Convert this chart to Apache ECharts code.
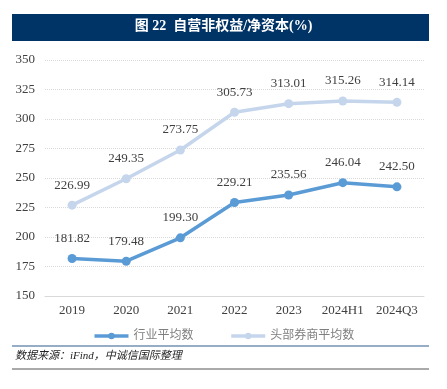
<!DOCTYPE html>
<html><head><meta charset="utf-8">
<script src="https://cdn.jsdelivr.net/npm/echarts@6/dist/echarts.min.js"></script>
<style>html,body{margin:0;padding:0;background:#fff}#c{width:447px;height:389px}</style>
</head><body><div id="c"></div>
<script>
const categories = ['2019','2020','2021','2022','2023','2024H1','2024Q3'];
const industryAvg = [181.82,179.48,199.30,229.21,235.56,246.04,242.50];
const topBrokerAvg = [226.99,249.35,273.75,305.73,313.01,315.26,314.14];
const seriesNames = ['行业平均数','头部券商平均数'];
const titleText = '图 22  自营非权益/净资本(%)';
const sourceText = '数据来源：iFind，中诚信国际整理';

const serif = '"Liberation Serif","Noto Sans CJK SC",serif';
const chart = echarts.init(document.getElementById('c'), null, {renderer:'canvas'});
chart.setOption({
  animation:false,
  graphic:[
    {type:'rect', shape:{x:12,y:14,width:417,height:27}, style:{fill:'#003366'}},
    {type:'text', left:'center', top:19, style:{text:titleText, fill:'#fff', font:'bold 14px '+serif}},
    {type:'line', shape:{x1:12,y1:346,x2:429,y2:346}, style:{stroke:'#2f5d8f', lineWidth:1.2}},
    {type:'text', left:15, top:351, style:{text:sourceText, fill:'#222', font:'italic 11px '+serif}},
    {type:'line', shape:{x1:12,y1:369,x2:429,y2:369}, style:{stroke:'#555', lineWidth:1}}
  ],
  grid:{left:45,right:23,top:60,bottom:93},
  legend:{
    top:325, left:'center', itemGap:36, itemWidth:34, itemHeight:8,
    lineStyle:{width:3.5},
    textStyle:{color:'#7f7f7f', fontSize:12, fontFamily:serif},
    data:seriesNames
  },
  xAxis:{
    type:'category', data:categories, boundaryGap:true,
    axisLine:{lineStyle:{color:'#d9d9d9'}}, axisTick:{show:false},
    axisLabel:{color:'#404040', fontSize:13, fontFamily:serif, margin:8, interval:0}
  },
  yAxis:{
    type:'value', min:150, max:350, interval:25,
    axisLine:{show:false}, axisTick:{show:false},
    splitLine:{lineStyle:{color:'#d9d9d9', type:'dotted'}},
    axisLabel:{color:'#404040', fontSize:13, fontFamily:serif, margin:10}
  },
  series:[
    {name:seriesNames[0], type:'line', data:industryAvg, symbol:'circle', symbolSize:9,
     lineStyle:{width:3.5, color:'#5b9bd5'}, itemStyle:{color:'#5b9bd5'},
     label:{show:true, position:'top', distance:9, color:'#404040', fontSize:13, fontFamily:serif, formatter:p=>p.value.toFixed(2)}},
    {name:seriesNames[1], type:'line', data:topBrokerAvg, symbol:'circle', symbolSize:9,
     lineStyle:{width:3.5, color:'#c5d6ec'}, itemStyle:{color:'#c5d6ec'},
     label:{show:true, position:'top', distance:9, color:'#404040', fontSize:13, fontFamily:serif, formatter:p=>p.value.toFixed(2)}}
  ]
});
</script></body></html>
